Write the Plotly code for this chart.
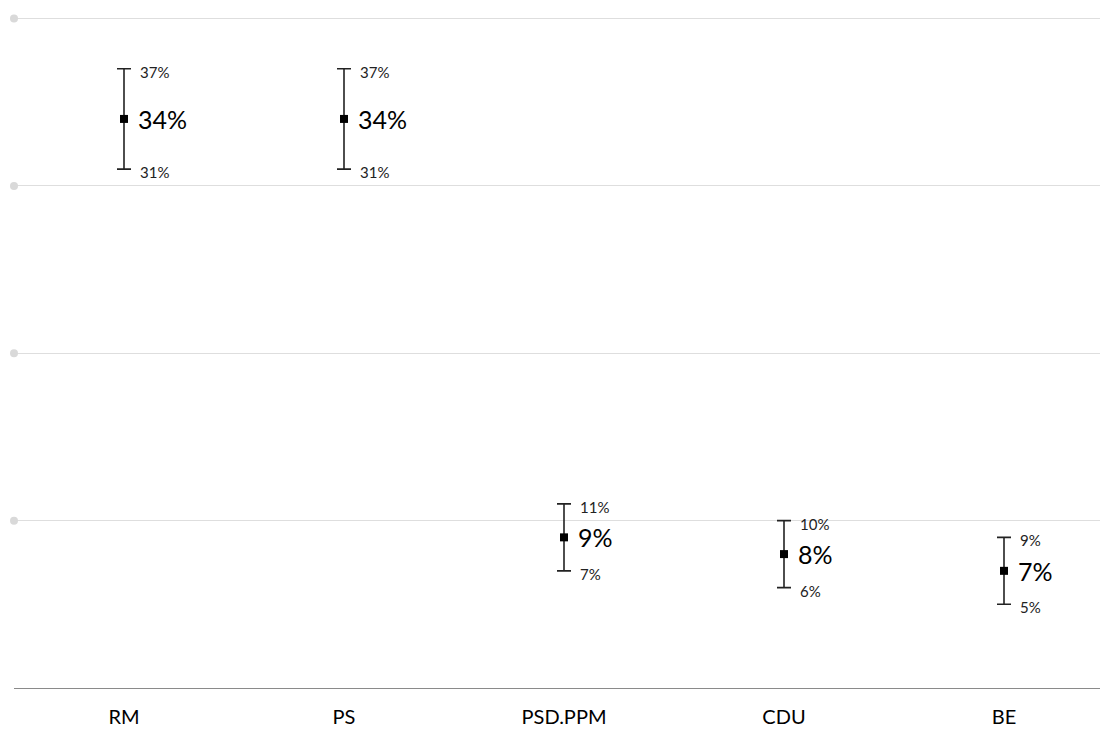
import plotly.graph_objects as go

categories = ["RM", "PS", "PSD.PPM", "CDU", "BE"]
values = [34, 34, 9, 8, 7]
lower = [31, 31, 7, 6, 5]
upper = [37, 37, 11, 10, 9]
grid_values = [10, 20, 30, 40]

FONT = "Lato, Open Sans, sans-serif"
xs = list(range(len(categories)))

fig = go.Figure()

# left-end dots of gridlines
fig.add_trace(go.Scatter(
    x=[-0.5] * len(grid_values), y=grid_values, mode="markers",
    marker=dict(size=8, color="#d9d9d9"), cliponaxis=False,
    hoverinfo="skip", showlegend=False,
))

fig.add_trace(go.Scatter(
    x=xs, y=values, mode="markers",
    marker=dict(symbol="square", size=8, color="black"),
    error_y=dict(
        type="data", symmetric=False,
        array=[u - v for u, v in zip(upper, values)],
        arrayminus=[v - l for v, l in zip(values, lower)],
        color="#222222", thickness=1.6, width=7,
    ),
    cliponaxis=False, showlegend=False,
))

for x, v, lo, up in zip(xs, values, lower, upper):
    fig.add_annotation(x=x, y=v, text=f"{v}%", showarrow=False,
                       xanchor="left", yanchor="middle", xshift=12,
                       font=dict(family=FONT, size=25, color="black"))
    fig.add_annotation(x=x, y=up, text=f"{up}%", showarrow=False,
                       xanchor="left", yanchor="middle", xshift=14, yshift=-3,
                       font=dict(family=FONT, size=15, color="#222222"))
    fig.add_annotation(x=x, y=lo, text=f"{lo}%", showarrow=False,
                       xanchor="left", yanchor="middle", xshift=14, yshift=-3,
                       font=dict(family=FONT, size=15, color="#222222"))

fig.update_layout(
    width=1100, height=721,
    margin=dict(l=6, r=0, t=8, b=41),
    paper_bgcolor="white", plot_bgcolor="white",
    font=dict(family=FONT),
    xaxis=dict(
        range=[-0.5, -0.5 + 1094 / 220], tickvals=xs, ticktext=categories,
        showgrid=False, zeroline=False, showline=True, linecolor="#8a8a8a",
        linewidth=1, ticks="", ticklabelstandoff=11, automargin=False,
        tickfont=dict(family=FONT, size=20, color="black"),
    ),
    yaxis=dict(
        range=[0, 40.15], tickvals=grid_values, showticklabels=False,
        showgrid=True, gridcolor="#dedede", gridwidth=1,
        zeroline=False, showline=False, automargin=False,
    ),
)

fig.write_html("out.html")
